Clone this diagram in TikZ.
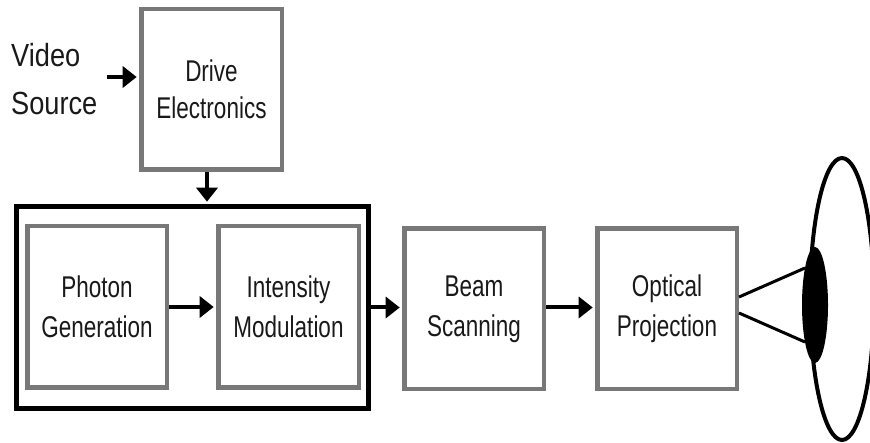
\documentclass[tikz,border=0pt]{standalone}
\usepackage{fontspec}
\setmainfont{Liberation Sans}[FakeStretch=0.75]
\newfontfamily\vsfont{Liberation Sans}[FakeStretch=0.85]
\usetikzlibrary{arrows.meta,calc,shapes.geometric}
\definecolor{boxgray}{RGB}{120,120,120}
\definecolor{txt}{RGB}{25,25,25}
\begin{document}
\begin{tikzpicture}[x=1pt,y=-1pt,
  graybox/.style={draw=boxgray, line width=4.5pt, minimum width=140pt, minimum height=161pt,
    inner sep=0pt, align=center, font=\fontsize{30}{40}\selectfont, text=txt},
  outerbox/.style={draw=black, line width=5pt, inner sep=0pt},
  flow/.style={line width=4pt, -{Triangle[length=14pt,width=21pt]}, shorten >=2.3pt},
  vslabel/.style={anchor=base west, inner sep=0pt, text=txt, font=\vsfont\fontsize{32}{40}\selectfont},
  eyeline/.style={line width=3pt}]
\useasboundingbox (0,0) rectangle (870,443);
% labels
\node[vslabel] (video) at (11,67) {Video};
\node[vslabel] (source) at (11,115) {Source};
% boxes
\node[graybox, minimum width=140.5pt, minimum height=160.5pt, font=\fontsize{30}{37}\selectfont] (drive) at (211.5,89.5) {Drive\\Electronics};
\node[outerbox, minimum width=352pt, minimum height=202pt] (big) at (192.5,307.5) {};
\node[graybox, minimum width=139.5pt, minimum height=161.5pt] (photon) at (97,307) {Photon\\Generation};
\node[graybox, minimum width=140.5pt, minimum height=161.5pt] (intensity) at (288.5,307) {Intensity\\Modulation};
\node[graybox, minimum width=139.5pt, minimum height=160.5pt] (beam) at (474,309) {Beam\\Scanning};
\node[graybox, minimum width=139.5pt, minimum height=160.5pt] (optical) at (667,309) {Optical\\Projection};
% arrows
\coordinate (vsarrow) at (107,77);
\draw[flow] (vsarrow) -- (vsarrow -| drive.west);
\coordinate (dcol) at (207,0);
\draw[flow] (drive.south -| dcol) -- (big.north -| dcol);
\draw[flow] (photon.east) -- (intensity.west);
\draw[flow] (big.east) -- (big.east -| beam.west);
\draw[flow] (beam.east |- big.east) -- (optical.west |- big.east);
% eye
\node[draw=black, line width=4pt, ellipse, minimum width=64pt, minimum height=282pt, inner sep=0pt] (eye) at (842,299) {};
\coordinate (e1) at (805,268);
\coordinate (e2) at (805,342);
\draw[eyeline] ($(optical.east)+(0,-12)$) -- (e1);
\draw[eyeline] ($(optical.east)+(0,4)$) -- (e2);
\node[fill=black, ellipse, minimum width=26pt, minimum height=116pt, inner sep=0pt] (pupil) at (815,305) {};
\end{tikzpicture}
\end{document}
